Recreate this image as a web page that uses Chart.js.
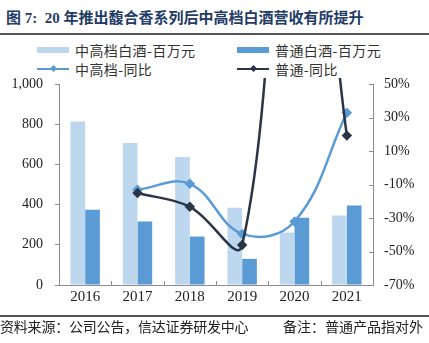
<!DOCTYPE html>
<html><head><meta charset="utf-8">
<script src="https://cdn.jsdelivr.net/npm/chart.js@4"></script>
<style>
html,body{margin:0;padding:0;background:#fff;}
body{width:429px;height:343px;position:relative;overflow:hidden;font-family:"Noto Sans CJK SC",sans-serif;}
#c{position:absolute;left:0;top:0;}
.t{position:absolute;white-space:nowrap;}
#title{left:6px;top:9px;font-size:15px;line-height:18px;font-weight:bold;color:#1F3B66;font-family:"Liberation Serif","Noto Sans CJK SC",serif;}
.hr{position:absolute;left:0;width:429px;height:2px;background:#555;}
.lt{font-size:14px;line-height:16px;color:#333;letter-spacing:0.4px;}
.sw{position:absolute;height:6px;}
.ln{position:absolute;height:2.5px;}
.dm{position:absolute;width:5px;height:5px;transform:rotate(45deg);}
.ft{top:317px;font-size:14px;line-height:18px;color:#222;}
</style></head>
<body>
<div id="title" class="t">图 7:&nbsp; 20 年推出馥合香系列后中高档白酒营收有所提升</div>
<div class="hr" style="top:33px"></div>
<div class="sw" style="left:37px;top:47px;width:32px;background:#BDD7EE"></div>
<div class="t lt" style="left:75px;top:42px">中高档白酒-百万元</div>
<div class="sw" style="left:237px;top:47px;width:32px;background:#5B9BD5"></div>
<div class="t lt" style="left:275px;top:42px">普通白酒-百万元</div>
<div class="ln" style="left:37px;top:67.5px;width:32px;background:#5B9BD5"></div>
<div class="dm" style="left:50.5px;top:66px;background:#5B9BD5"></div>
<div class="t lt" style="left:75px;top:60.5px">中高档-同比</div>
<div class="ln" style="left:237px;top:67.5px;width:32px;background:#2A3548"></div>
<div class="dm" style="left:250.5px;top:66px;background:#2A3548"></div>
<div class="t lt" style="left:275px;top:60.5px">普通-同比</div>
<canvas id="c" width="429" height="343"></canvas>
<div class="hr" style="top:315px"></div>
<div class="t ft" style="left:0;letter-spacing:-0.2px">资料来源：公司公告，信达证券研发中心</div>
<div class="t ft" style="left:283px">备注：普通产品指对外</div>
<script>
const years = ['2016','2017','2018','2019','2020','2021'];
const midHighRevenue = [813, 707, 637, 384, 261, 346];
const ordinaryRevenue = [374, 316, 241, 130, 334, 396];
const midHighYoY = [null, -13.1, -9.6, -39.5, -32.1, 32.8];
const ordinaryYoY = [null, -15.1, -23.3, -46.1, 250, 19.2];
const leftTicks = [0, 200, 400, 600, 800, 1000];
const rightTicks = [-70, -50, -30, -10, 10, 30, 50];

Chart.defaults.font.family = '"Liberation Serif", serif';
Chart.defaults.font.size = 14;
Chart.defaults.color = '#222';

const innerTicks = {
  id: 'innerTicks',
  afterDraw(chart) {
    const {ctx, chartArea: a, scales: {x, y1}} = chart;
    ctx.save();
    ctx.strokeStyle = '#8c8c8c';
    ctx.lineWidth = 1;
    ctx.beginPath();
    for (let i = 1; i < years.length; i++) {
      const px = Math.round(x.getPixelForValue(i - 0.5)) + 0.5;
      ctx.moveTo(px, a.bottom);
      ctx.lineTo(px, a.bottom - 4);
    }
    rightTicks.forEach(v => {
      const py = Math.round(y1.getPixelForValue(v)) + 0.5;
      ctx.moveTo(a.right, py);
      ctx.lineTo(a.right - 4, py);
    });
    ctx.stroke();
    ctx.restore();
  }
};

new Chart(document.getElementById('c'), {
  data: {
    labels: years,
    datasets: [
      {type: 'line', label: '普通-同比', data: ordinaryYoY, yAxisID: 'y1', order: 0,
       borderColor: '#2A3548', backgroundColor: '#2A3548', borderWidth: 2.5,
       tension: 0.4, capBezierPoints: false, pointStyle: 'rectRot', pointRadius: 3.5,
       clip: {left: 0, right: 0, top: 6, bottom: 0}},
      {type: 'line', label: '中高档-同比', data: midHighYoY, yAxisID: 'y1', order: 1,
       borderColor: '#5B9BD5', backgroundColor: '#5B9BD5', borderWidth: 2.5,
       tension: 0.4, capBezierPoints: false, pointStyle: 'rectRot', pointRadius: 3.5,
       clip: {left: 0, right: 0, top: 6, bottom: 0}},
      {type: 'bar', label: '中高档白酒-百万元', data: midHighRevenue, yAxisID: 'y', order: 2,
       backgroundColor: '#BDD7EE', categoryPercentage: 0.562, barPercentage: 1},
      {type: 'bar', label: '普通白酒-百万元', data: ordinaryRevenue, yAxisID: 'y', order: 3,
       backgroundColor: '#5B9BD5', categoryPercentage: 0.562, barPercentage: 1}
    ]
  },
  options: {
    responsive: false,
    animation: false,
    devicePixelRatio: 1,
    layout: {padding: {top: 84, left: 0, right: 0, bottom: 0}},
    plugins: {legend: {display: false}, tooltip: {enabled: false}},
    scales: {
      x: {
        grid: {display: false, drawTicks: false},
        border: {display: true, color: '#8c8c8c'},
        ticks: {padding: 3, font: {size: 15}},
        afterFit(s) { s.height = 58; }
      },
      y: {
        position: 'left', min: 0, max: 1000,
        afterBuildTicks(s) { s.ticks = leftTicks.map(v => ({value: v})); },
        grid: {drawOnChartArea: false, drawTicks: true, tickLength: 4, color: '#8c8c8c'},
        border: {display: true, color: '#8c8c8c'},
        ticks: {padding: 12, callback: v => v.toLocaleString('en-US')},
        afterFit(s) { s.width = 59; }
      },
      y1: {
        position: 'right', min: -70, max: 50,
        afterBuildTicks(s) { s.ticks = rightTicks.map(v => ({value: v})); },
        grid: {display: false, drawTicks: false},
        border: {display: true, color: '#8c8c8c'},
        ticks: {padding: 11, callback: v => v + '%'},
        afterFit(s) { s.width = 56; }
      }
    }
  },
  plugins: [innerTicks]
});
</script>
</body></html>
